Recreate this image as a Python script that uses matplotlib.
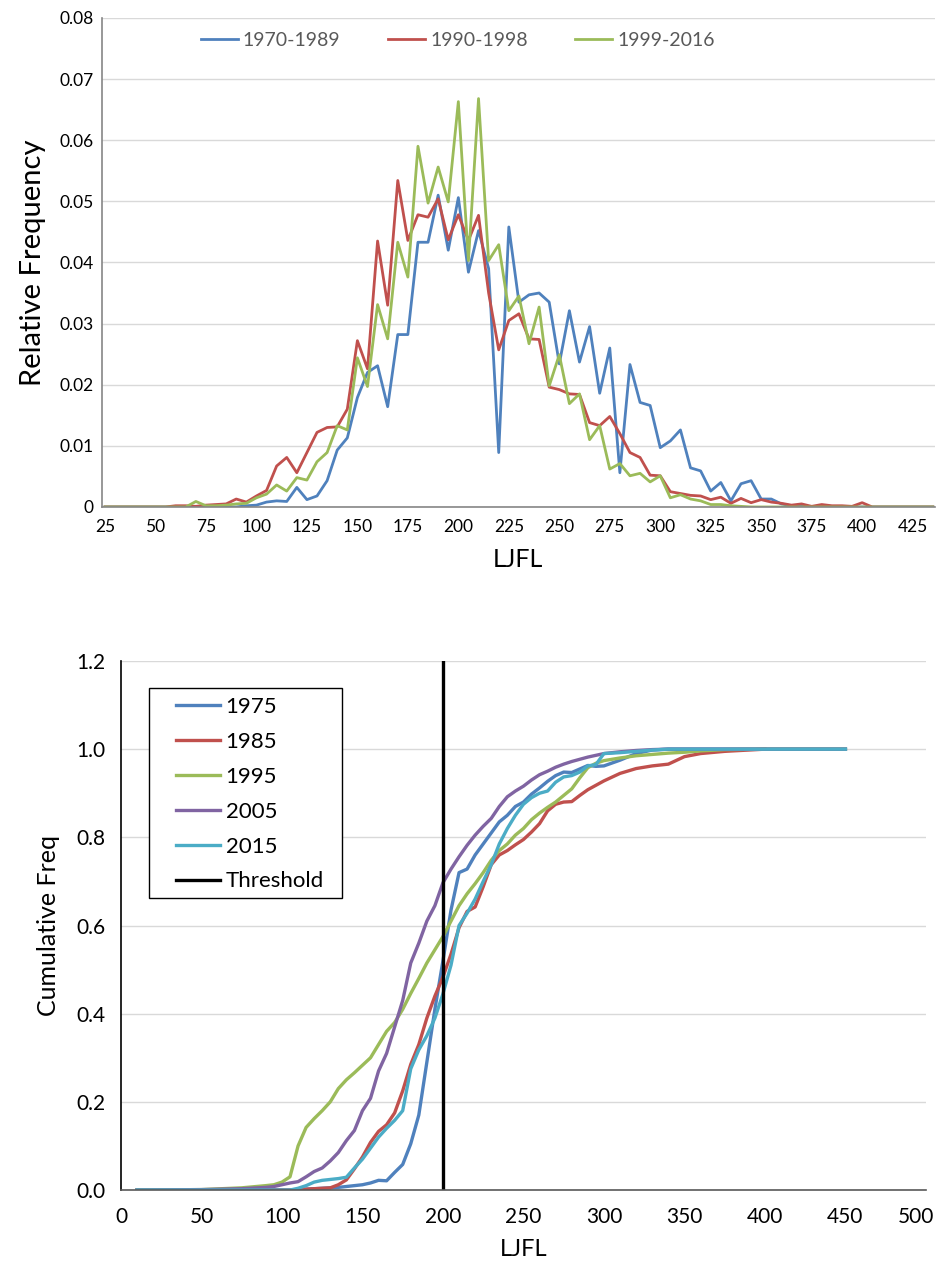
import numpy as np
import matplotlib.pyplot as plt
from matplotlib.patches import Rectangle
from matplotlib.transforms import ScaledTranslation

plt.rcParams['font.family'] = ['Lato', 'DejaVu Sans']

# ---- top chart: relative frequency by LJFL class ----
ljfl_classes = list(range(25, 440, 5))

freq_1970_1989 = [0, 0, 0, 0, 0, 0, 0, 0, 0, 0, 0, 0, 0, 0, 0.0002,
                  0.0003, 0.0008, 0.001, 0.0009, 0.0032, 0.0012, 0.0018, 0.0043, 0.0093, 0.0113,
                  0.0179, 0.022, 0.0231, 0.0164, 0.0282, 0.0282, 0.0433, 0.0433, 0.051, 0.042,
                  0.0506, 0.0384, 0.0452, 0.039, 0.0089, 0.0458, 0.0335, 0.0347, 0.035, 0.0335,
                  0.0234, 0.0321, 0.0237, 0.0295, 0.0186, 0.026, 0.0056, 0.0233, 0.0171, 0.0166,
                  0.0097, 0.0108, 0.0126, 0.0064, 0.0059, 0.0026, 0.004, 0.001, 0.0038, 0.0043,
                  0.0013, 0.0013, 0.0005, 0.0002, 0.0001, 0, 0, 0, 0, 0,
                  0, 0, 0, 0, 0, 0, 0, 0]

freq_1990_1998 = [0, 0, 0, 0, 0, 0, 0, 0.0002, 0.0002, 0.0001, 0.0003, 0.0004, 0.0005, 0.0013, 0.0008,
                  0.0018, 0.0027, 0.0067, 0.0081, 0.0056, 0.0089, 0.0122, 0.013, 0.0131, 0.016,
                  0.0272, 0.0226, 0.0435, 0.033, 0.0534, 0.0436, 0.0478, 0.0474, 0.0504, 0.0437,
                  0.0478, 0.0436, 0.0477, 0.035, 0.0257, 0.0305, 0.0316, 0.0275, 0.0274, 0.0196,
                  0.0192, 0.0185, 0.0184, 0.0138, 0.0133, 0.0148, 0.012, 0.0089, 0.0081, 0.0052,
                  0.0051, 0.0025, 0.0022, 0.0019, 0.0018, 0.0012, 0.0016, 0.0006, 0.0014, 0.0007,
                  0.0012, 0.0008, 0.0006, 0.0003, 0.0005, 0.0001, 0.0004, 0.0002, 0.0002, 0.0001,
                  0.0007, 0, 0, 0, 0, 0, 0, 0]

freq_1999_2016 = [0, 0, 0, 0, 0, 0, 0, 0, 0, 0.0009, 0.0002, 0.0002, 0.0003, 0.0005, 0.0006,
                  0.0015, 0.0021, 0.0036, 0.0026, 0.0048, 0.0044, 0.0074, 0.0089, 0.0133, 0.0126,
                  0.0244, 0.0197, 0.0331, 0.0275, 0.0433, 0.0376, 0.059, 0.0497, 0.0556, 0.0499,
                  0.0663, 0.0403, 0.0668, 0.0403, 0.0429, 0.0321, 0.0345, 0.0267, 0.0327, 0.0198,
                  0.0249, 0.0169, 0.0185, 0.011, 0.0133, 0.0062, 0.0071, 0.0051, 0.0055, 0.0041,
                  0.0051, 0.0015, 0.002, 0.0013, 0.001, 0.0004, 0.0004, 0.0002, 0.0001, 0,
                  0, 0, 0, 0, 0, 0, 0, 0, 0, 0,
                  0, 0, 0, 0, 0, 0, 0, 0]

# ---- bottom chart: cumulative frequency ----
cum_x = [10, 50, 75, 90, 95] + list(range(100, 305, 5)) + [310, 320, 330, 340, 350, 360, 375, 400, 450]

cum_1975 = [0, 0, 0, 0, 0,
            0, 0, 0.001, 0.002, 0.003, 0.004, 0.005, 0.006, 0.008, 0.01,
            0.012, 0.016, 0.022, 0.021, 0.04, 0.058, 0.105, 0.17, 0.29, 0.41,
            0.52, 0.635, 0.72, 0.728, 0.76, 0.785, 0.81, 0.835, 0.85, 0.87,
            0.88, 0.898, 0.912, 0.927, 0.94, 0.948, 0.947, 0.955, 0.963, 0.961,
            0.962,
            0.975, 0.99, 0.998, 1.0, 1.0, 1.0, 1.0, 1.0, 1.0]

cum_1985 = [0, 0, 0, 0, 0,
            0, 0, 0.001, 0.002, 0.003, 0.004, 0.005, 0.012, 0.023, 0.048,
            0.075, 0.108, 0.133, 0.148, 0.175, 0.225, 0.285, 0.33, 0.39, 0.44,
            0.483, 0.535, 0.595, 0.632, 0.642, 0.688, 0.738, 0.76, 0.77, 0.783,
            0.795, 0.812, 0.831, 0.86, 0.875, 0.88, 0.881, 0.895, 0.908, 0.918,
            0.928,
            0.945, 0.956, 0.962, 0.966, 0.983, 0.99, 0.995, 1.0, 1.0]

cum_1995 = [0, 0.001, 0.005, 0.01, 0.012,
            0.018, 0.03, 0.1, 0.142, 0.162, 0.18, 0.2, 0.23, 0.25, 0.266,
            0.283, 0.3, 0.33, 0.36, 0.38, 0.41, 0.446, 0.48, 0.515, 0.545,
            0.575, 0.61, 0.645, 0.672, 0.695, 0.72, 0.748, 0.77, 0.785, 0.805,
            0.82, 0.84, 0.855, 0.868, 0.88, 0.895, 0.91, 0.935, 0.958, 0.968,
            0.974,
            0.98, 0.985, 0.988, 0.991, 0.993, 0.996, 0.999, 1.0, 1.0]

cum_2005 = [0, 0.001, 0.003, 0.006, 0.008,
            0.012, 0.016, 0.019, 0.03, 0.042, 0.05, 0.066, 0.085, 0.112, 0.135,
            0.18, 0.208, 0.27, 0.31, 0.37, 0.43, 0.515, 0.56, 0.61, 0.645,
            0.697, 0.728, 0.756, 0.782, 0.805, 0.825, 0.843, 0.87, 0.892, 0.905,
            0.916, 0.93, 0.942, 0.95, 0.959, 0.966, 0.972, 0.977, 0.982, 0.986,
            0.99,
            0.994, 0.997, 0.999, 1.0, 1.0, 1.0, 1.0, 1.0, 1.0]

cum_2015 = [0, 0, 0, 0, 0,
            0, 0, 0.004, 0.01, 0.018, 0.022, 0.024, 0.026, 0.029, 0.05,
            0.07, 0.095, 0.12, 0.14, 0.158, 0.18, 0.275, 0.318, 0.35, 0.39,
            0.445, 0.51, 0.6, 0.628, 0.66, 0.7, 0.738, 0.785, 0.82, 0.85,
            0.875, 0.89, 0.9, 0.905, 0.925, 0.937, 0.94, 0.948, 0.962, 0.965,
            0.99,
            0.992, 0.995, 0.998, 1.0, 1.0, 1.0, 1.0, 1.0, 1.0]

threshold = 200

blue = '#4F81BD'
red = '#C0504D'
green = '#9BBB59'
purple = '#8064A2'
cyan = '#4BACC6'
grid_col = '#D9D9D9'

fig = plt.figure(figsize=(9.4, 12.77), dpi=100)

# top panel
ax1 = fig.add_axes([0.1085, 0.603, 0.886, 0.383])
ax1.plot(ljfl_classes, freq_1970_1989, color=blue, lw=2.0, label='1970-1989')
ax1.plot(ljfl_classes, freq_1990_1998, color=red, lw=2.0, label='1990-1998')
ax1.plot(ljfl_classes, freq_1999_2016, color=green, lw=2.0, label='1999-2016')
ax1.set_xlim(23.5, 436)
ax1.set_ylim(0, 0.08)
ax1.set_xticks(list(range(25, 430, 25)))
ax1.set_yticks(np.arange(0, 0.081, 0.01))
ax1.set_yticklabels(['0'] + ['%.2f' % v for v in np.arange(0.01, 0.081, 0.01)])
ax1.grid(axis='y', color=grid_col, lw=1.0)
ax1.set_axisbelow(True)
for s in ['top', 'right']:
    ax1.spines[s].set_visible(False)
ax1.spines['left'].set_color('#868686')
ax1.spines['bottom'].set_color('#868686')
ax1.spines['left'].set_linewidth(1.2)
ax1.spines['bottom'].set_linewidth(1.2)
ax1.tick_params(length=0, labelsize=12.5)
ax1.tick_params(axis='x', pad=9)
ax1.tick_params(axis='y', pad=6)
ax1.set_xlabel('LJFL', fontsize=18, labelpad=9)
ax1.set_ylabel('Relative Frequency', fontsize=21, labelpad=10)
leg1 = ax1.legend(loc='upper left', bbox_to_anchor=(0.1188, 0.972), ncol=3, frameon=False,
                  fontsize=14, handlelength=1.9, columnspacing=2.45, handletextpad=0.26,
                  borderpad=0, borderaxespad=0)
for t in leg1.get_texts():
    t.set_color('#595959')

# bottom panel
ax2 = fig.add_axes([0.1287, 0.0681, 0.8563, 0.4143])
ax2.plot(cum_x, cum_1975, color=blue, lw=2.4, label='1975')
ax2.plot(cum_x[:-1], cum_1985[:-1], color=red, lw=2.4, label='1985')
ax2.plot(cum_x, cum_1995, color=green, lw=2.4, label='1995')
ax2.plot(cum_x, cum_2005, color=purple, lw=2.4, label='2005')
ax2.plot(cum_x, cum_2015, color=cyan, lw=2.4, label='2015')
ax2.plot([threshold, threshold], [0, 1.2], color='black', lw=2.4, label='Threshold')
ax2.set_xlim(0, 500)
ax2.set_ylim(0, 1.2)
ax2.set_xticks(range(0, 501, 50))
ax2.set_yticks(np.arange(0, 1.21, 0.2))
ax2.set_yticklabels(['%.1f' % v for v in np.arange(0, 1.21, 0.2)])
ax2.grid(axis='y', color=grid_col, lw=1.0)
ax2.set_axisbelow(True)
for s in ['top', 'right']:
    ax2.spines[s].set_visible(False)
ax2.spines['left'].set_color('black')
ax2.spines['bottom'].set_color('#595959')
ax2.spines['left'].set_linewidth(1.2)
ax2.spines['bottom'].set_linewidth(1.2)
ax2.tick_params(length=0, labelsize=15)
ax2.tick_params(axis='x', pad=12)
ax2.tick_params(axis='y', pad=11)
ax2.set_xlabel('LJFL', fontsize=17, labelpad=9)
ax2.set_ylabel('Cumulative Freq', fontsize=18, labelpad=12)

# keep the last x label inside the figure edge
last_lbl = ax2.get_xticklabels()[-1]
last_lbl.set_transform(last_lbl.get_transform() + ScaledTranslation(-0.1, 0, fig.dpi_scale_trans))

# legend box drawn separately so the entries can sit inset like the original
ax2.add_patch(Rectangle((0.0348, 0.552), 0.2398, 0.397, transform=ax2.transAxes,
                        facecolor='white', edgecolor='black', lw=1.0, zorder=4))
leg2 = ax2.legend(loc='upper left', bbox_to_anchor=(0.0683, 0.932), frameon=False,
                  fontsize=16, handlelength=2.0, handletextpad=0.23, labelspacing=0.67,
                  borderpad=0, borderaxespad=0)
leg2.set_zorder(5)

fig.savefig('out.png', dpi=100)
